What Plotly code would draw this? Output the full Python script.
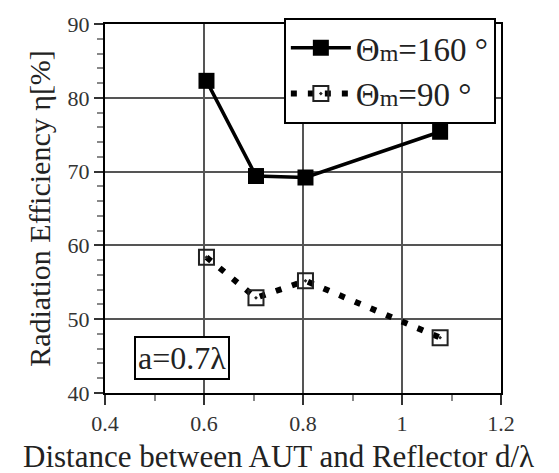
import plotly.graph_objects as go

# Data
distance_160 = [0.605, 0.705, 0.805, 1.077]
eff_160 = [82.3, 69.4, 69.2, 75.4]
distance_90 = [0.605, 0.705, 0.805, 1.077]
eff_90 = [58.4, 52.9, 55.2, 47.5]
x_ticks = [0.4, 0.6, 0.8, 1.0, 1.2]
y_ticks = [40, 50, 60, 70, 80, 90]

SERIF = "Liberation Serif, Times New Roman, serif"

fig = go.Figure()
fig.add_trace(go.Scatter(
    x=distance_160, y=eff_160, mode="lines+markers",
    name="Θ<span style='font-size:24px'>m</span>=160 °",
    line=dict(color="black", width=3.5),
    marker=dict(symbol="square", size=16, color="black"),
    legendgroup="a",
))
fig.add_trace(go.Scatter(
    x=distance_90, y=eff_90, mode="lines+markers",
    name="Θ<span style='font-size:24px'>m</span>=90 °",
    line=dict(color="black", width=6, dash="6px,11px"),
    marker=dict(symbol="square-open-dot", size=15, color="#222",
                line=dict(width=2, color="#333")),
    legendgroup="b",
))

axis_common = dict(
    showline=True, linecolor="black", linewidth=2, mirror=True,
    showgrid=True, gridcolor="#555", gridwidth=1.5,
    ticks="outside", tickcolor="#333", tickwidth=1.5,
    tickfont=dict(family=SERIF, size=22, color="#333"),
    zeroline=False,
)

fig.update_xaxes(
    range=[0.4, 1.2], tickvals=x_ticks, ticklen=10,
    minor=dict(dtick=0.1, ticks="outside", ticklen=6, tickcolor="#888", showgrid=False),
    **axis_common,
)
fig.update_yaxes(
    range=[40, 90], tickvals=y_ticks, ticklen=9,
    minor=dict(dtick=2, ticks="outside", ticklen=6, tickcolor="#888", showgrid=False),
    title=dict(text="Radiation Efficiency η[%]", font=dict(family=SERIF, size=30, color="#222"), standoff=8),
    **axis_common,
)

fig.add_annotation(
    text="Distance between AUT and Reflector d/λ",
    xref="paper", yref="paper", x=0.437, y=-0.12, xanchor="center", yanchor="top",
    showarrow=False, font=dict(family=SERIF, size=31, color="#222"),
)
fig.add_annotation(
    text="a=0.7λ",
    xref="paper", yref="paper", x=0.194, y=0.096, xanchor="center", yanchor="middle",
    showarrow=False, font=dict(family=SERIF, size=32, color="#222"),
    bordercolor="black", borderwidth=2, borderpad=2, bgcolor="white",
)

fig.update_layout(
    width=559, height=473,
    margin=dict(l=105, r=58, t=17, b=80),
    plot_bgcolor="white", paper_bgcolor="white",
    showlegend=True,
    legend=dict(
        x=0.987, y=1.017, xanchor="right", yanchor="top",
        bgcolor="white", bordercolor="black", borderwidth=2,
        font=dict(family=SERIF, size=33, color="#222"),
        itemwidth=60, tracegroupgap=0,
    ),
)

fig.write_html("out.html")
